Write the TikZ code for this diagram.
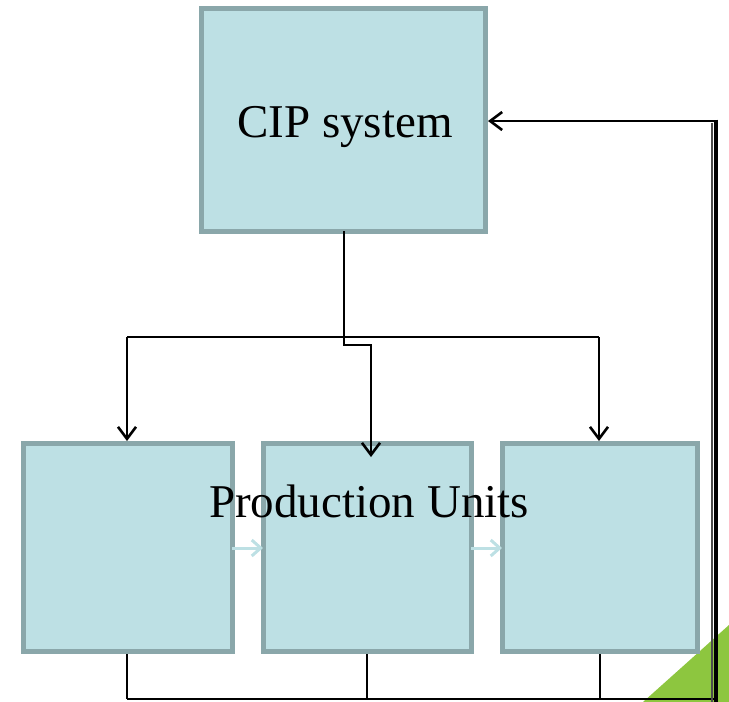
\documentclass[tikz,border=0pt]{standalone}
\usepackage{fontspec}
\setmainfont{Liberation Serif}
\usetikzlibrary{arrows.meta,calc}
\definecolor{boxfill}{HTML}{BDE0E4}
\definecolor{boxline}{HTML}{8AA7AA}
\definecolor{leaf}{HTML}{8DC63F}
\begin{document}
\begin{tikzpicture}[x=1pt,y=-1pt,
  unitbox/.style={draw=boxline,fill=boxfill,line width=5pt,inner sep=0pt,anchor=north west,outer sep=0pt},
  conn/.style={draw=black,line width=2.6pt},
  tip/.style={-{Straight Barb[length=12pt,width=18pt,line width=2.6pt]}},
  faint/.style={draw=boxfill,line width=3pt,-{Straight Barb[length=9pt,width=16pt,line width=3pt]}},
  lbl/.style={font=\fontsize{47}{50}\selectfont,text=black}]
\useasboundingbox (0,0) rectangle (729,702);
\fill[leaf] (643,702) -- (729,625) -- (729,702) -- cycle;
% boxes
\node[unitbox,minimum width=284pt,minimum height=223pt] (cip) at (201.5,8) {};
\node[unitbox,minimum width=209pt,minimum height=208pt] (p1) at (23,443.5) {};
\node[unitbox,minimum width=208pt,minimum height=208pt] (p2) at (263,443.5) {};
\node[unitbox,minimum width=195pt,minimum height=208pt] (p3) at (502,443.5) {};
% faint arrows between units
\draw[faint] (p1.east|-0,548) -- (p2.west|-0,548);
\draw[faint] (p2.east|-0,548) -- (p3.west|-0,548);
% labels
\node[lbl] (cipt) at (345,127) {CIP system};
\node[lbl] (put) at (369,501) {Production Units};
% distribution
\coordinate (j) at (344,337);
\coordinate (jl) at (127,337);
\coordinate (jr) at (599,337);
\coordinate (jm) at (344,345);
\coordinate (jm2) at (371,345);
\draw[conn] (cip.south-|j) -- (j);
\draw[conn] (jl) -- (jr);
\draw[conn,tip] (jl) -- (127,441);
\draw[conn,tip] (jr) -- (599,441);
\draw[conn,tip] (j) -- (jm) -- (jm2) -- (371,457);
% return
\coordinate (b1) at (127,699);
\coordinate (b2) at (367,699);
\coordinate (b3) at (600,699);
\coordinate (br) at (716,699);
\coordinate (tr) at (716,121);
\draw[conn] (127,654) -- (b1);
\draw[conn] (367,654) -- (b2);
\draw[conn] (600,654) -- (b3);
\draw[conn] (b1) -- (br);
\draw[line width=4.5pt,black] (716,119.7) -- (716,702);
\draw[line width=2pt,black!70] (712,123) -- (712,702);
\draw[conn,tip] (tr) -- (488,121);
\end{tikzpicture}
\end{document}
